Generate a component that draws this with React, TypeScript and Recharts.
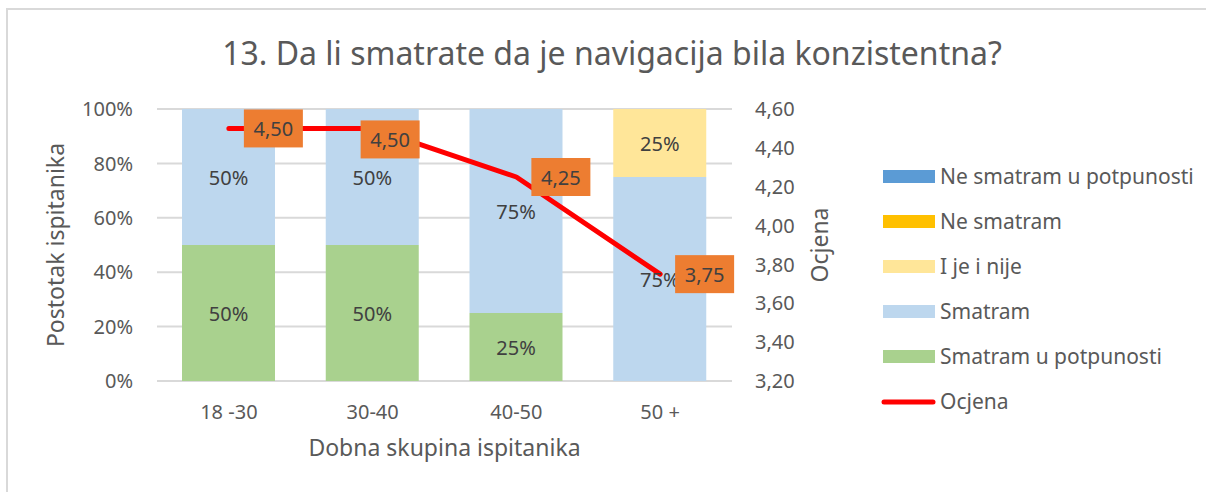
import React from "react";
import { ComposedChart, Bar, Line, XAxis, YAxis, CartesianGrid, LabelList } from "recharts";

const FONT = '"Noto Sans", "Open Sans", sans-serif';

// Podaci s grafikona
const categories = ["18 -30", "30-40", "40-50", "50 +"];
const smatramUPotpunosti = [50, 50, 25, 0];
const smatram = [50, 50, 75, 75];
const iJeINije = [0, 0, 0, 25];
const neSmatram = [0, 0, 0, 0];
const neSmatramUPotpunosti = [0, 0, 0, 0];
const ocjena = [4.5, 4.5, 4.25, 3.75];
const leftTicks = [0, 20, 40, 60, 80, 100];
const rightTicks = [3.2, 3.4, 3.6, 3.8, 4.0, 4.2, 4.4, 4.6];

// redoslijed slaganja: odozdo prema gore
const barSeries = [
  { key: "sup", name: "Smatram u potpunosti", color: "#A9D18E", values: smatramUPotpunosti },
  { key: "s", name: "Smatram", color: "#BDD7EE", values: smatram },
  { key: "ijn", name: "I je i nije", color: "#FFE699", values: iJeINije },
  { key: "ns", name: "Ne smatram", color: "#FFC000", values: neSmatram },
  { key: "nsup", name: "Ne smatram u potpunosti", color: "#5B9BD5", values: neSmatramUPotpunosti },
];

const data = categories.map((name, i) => {
  const row: { [k: string]: string | number } = { name, ocjena: ocjena[i] };
  barSeries.forEach((s) => (row[s.key] = s.values[i]));
  return row;
});

const fmtScore = (v: number) => v.toFixed(2).replace(".", ",");

function BarValueLabel(props: any) {
  const vb = props.viewBox ?? props;
  const { x, y, width, height } = vb;
  if (!props.value) return null;
  return (
    <text
      x={x + width / 2}
      y={y + height / 2}
      textAnchor="middle"
      dominantBaseline="central"
      fill="#404040"
      fontSize={20}
      fontFamily={FONT}
    >
      {props.value}%
    </text>
  );
}

function ScoreLabel(props: any) {
  const vb = props.viewBox ?? props;
  const x = vb.x ?? props.x;
  const y = vb.y ?? props.y;
  // Excel je drugu oznaku malo pomaknuo
  const dx = props.index === 1 ? -27 : 0;
  const dy = props.index === 1 ? 11 : 0;
  const bx = x + 15 + dx;
  const by = y - 19 + dy;
  return (
    <g>
      <rect x={bx} y={by} width={59} height={38} fill="#ED7D31" />
      <text
        x={bx + 29.5}
        y={by + 19}
        textAnchor="middle"
        dominantBaseline="central"
        fill="#404040"
        fontSize={20}
        fontFamily={FONT}
      >
        {fmtScore(props.value)}
      </text>
    </g>
  );
}

const tickStyle = { fontSize: 20, fill: "#595959", fontFamily: FONT };

export default function App() {
  const legendItems = [...barSeries].reverse();
  return (
    <div style={{ position: "absolute", left: 0, top: 0, width: 1206, height: 492, overflow: "hidden", background: "#fff" }}>
      <div
        style={{
          position: "absolute",
          left: 6,
          top: 8,
          width: 1220,
          height: 500,
          border: "2px solid #D9D9D9",
        }}
      />
      <div
        style={{
          position: "absolute",
          left: 0,
          top: 37,
          width: 1224,
          textAlign: "center",
          fontFamily: FONT,
          fontSize: 32,
          lineHeight: "32px",
          color: "#595959",
          whiteSpace: "nowrap",
        }}
      >
        13. Da li smatrate da je navigacija bila konzistentna?
      </div>
      <div style={{ position: "absolute", left: 0, top: 0 }}>
        <ComposedChart width={1206} height={492} data={data} margin={{ top: 109, right: 0, bottom: 0, left: 0 }}>
          <CartesianGrid yAxisId="left" vertical={false} stroke="#D9D9D9" strokeWidth={2} />
          <XAxis
            dataKey="name"
            height={111}
            tick={tickStyle}
            tickLine={false}
            axisLine={false}
            tickSize={0}
            tickMargin={24}
            label={{
              content: (p: any) => (
                <text
                  x={p.viewBox.x + p.viewBox.width / 2}
                  y={456}
                  textAnchor="middle"
                  fill="#595959"
                  fontSize={23}
                  fontFamily={FONT}
                >
                  Dobna skupina ispitanika
                </text>
              ),
            }}
          />
          <YAxis
            yAxisId="left"
            width={157}
            domain={[0, 100]}
            ticks={leftTicks}
            interval={0}
            tickFormatter={(v: number) => `${v}%`}
            tick={tickStyle}
            tickLine={false}
            axisLine={false}
            tickSize={0}
            tickMargin={24}
            label={{
              content: (p: any) => {
                const cx = p.viewBox.x + 55;
                const cy = p.viewBox.y + p.viewBox.height / 2;
                return (
                  <text
                    x={cx}
                    y={cy}
                    transform={`rotate(-90 ${cx} ${cy})`}
                    textAnchor="middle"
                    dominantBaseline="central"
                    fill="#595959"
                    fontSize={23}
                    fontFamily={FONT}
                  >
                    Postotak ispitanika
                  </text>
                );
              },
            }}
          />
          <YAxis
            yAxisId="right"
            orientation="right"
            width={474}
            domain={[3.2, 4.6]}
            ticks={rightTicks}
            interval={0}
            tickFormatter={fmtScore}
            tick={{ ...tickStyle, textAnchor: "start" }}
            tickLine={false}
            axisLine={false}
            tickSize={0}
            tickMargin={23}
            label={{
              content: (p: any) => {
                const cx = p.viewBox.x + 87;
                const cy = p.viewBox.y + p.viewBox.height / 2;
                return (
                  <text
                    x={cx}
                    y={cy}
                    transform={`rotate(-90 ${cx} ${cy})`}
                    textAnchor="middle"
                    dominantBaseline="central"
                    fill="#595959"
                    fontSize={23}
                    fontFamily={FONT}
                  >
                    Ocjena
                  </text>
                );
              },
            }}
          />
          {barSeries.map((s) => (
            <Bar
              key={s.key}
              yAxisId="left"
              dataKey={s.key}
              name={s.name}
              stackId="a"
              fill={s.color}
              barSize={93}
              isAnimationActive={false}
            >
              <LabelList dataKey={s.key} content={BarValueLabel} />
            </Bar>
          ))}
          <Line
            yAxisId="right"
            type="linear"
            dataKey="ocjena"
            name="Ocjena"
            stroke="#FF0000"
            strokeWidth={5}
            strokeLinecap="round"
            strokeLinejoin="round"
            dot={false}
            activeDot={false}
            isAnimationActive={false}
          >
            <LabelList dataKey="ocjena" content={ScoreLabel} />
          </Line>
        </ComposedChart>
      </div>
      <div style={{ position: "absolute", left: 881, top: 154, fontFamily: FONT, fontSize: 21, color: "#595959" }}>
        {legendItems.map((s) => (
          <div key={s.key} style={{ display: "flex", alignItems: "center", height: 45, lineHeight: "21px" }}>
            <span style={{ display: "inline-block", width: 52, height: 13, background: s.color, marginLeft: 2, marginRight: 5 }} />
            <span style={{ whiteSpace: "nowrap" }}>{s.name}</span>
          </div>
        ))}
        <div style={{ display: "flex", alignItems: "center", height: 45, lineHeight: "21px" }}>
          <svg width={57} height={10} style={{ marginRight: 2 }}>
            <line x1={3} y1={5} x2={52} y2={5} stroke="#FF0000" strokeWidth={5} strokeLinecap="round" />
          </svg>
          <span>Ocjena</span>
        </div>
      </div>
    </div>
  );
}
